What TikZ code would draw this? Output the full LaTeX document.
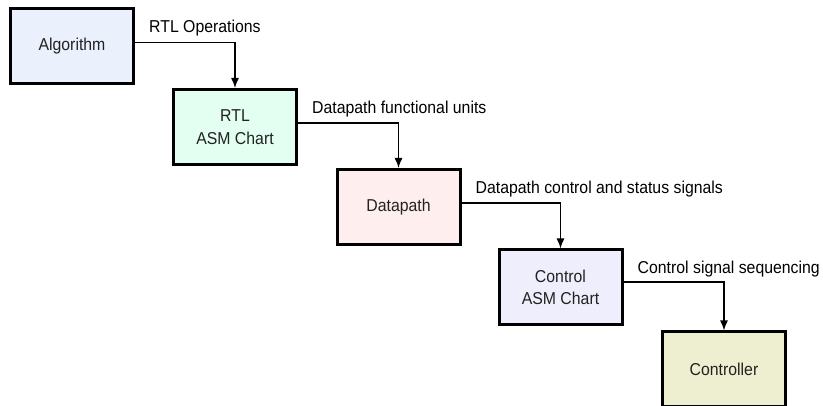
\documentclass[tikz,border=0pt]{standalone}
\usepackage{fontspec}
\setmainfont[FakeStretch=0.92]{Liberation Sans}
\usetikzlibrary{arrows.meta}
\definecolor{algfill}{RGB}{234,240,252}
\definecolor{rtlfill}{RGB}{226,255,242}
\definecolor{dpfill}{RGB}{255,238,238}
\definecolor{ctlfill}{RGB}{238,238,252}
\definecolor{ctrlfill}{RGB}{238,238,208}
\definecolor{boxtext}{RGB}{34,34,34}

\begin{document}
\begin{tikzpicture}[x=1pt, y=-1pt,
    stage/.style={draw, line width=3pt, minimum width=123pt, minimum height=75pt,
      align=center, text=boxtext, font=\fontsize{17.2}{22.5}\selectfont},
    flow/.style={line width=1.4pt, -{Latex[length=10pt,width=8pt]}},
    lbl/.style={anchor=base west, inner sep=0pt, font=\fontsize{17.2}{19}\selectfont}]
    \useasboundingbox (0,0) rectangle (823,406);
    % design steps, one box per stage
    \node[stage, fill=algfill] (alg) at (72,46.5) {Algorithm};
    \node[stage, fill=rtlfill] (rtl) at (235,127) {RTL\\ASM Chart};
    \node[stage, fill=dpfill] (dp) at (398.5,207) {Datapath};
    \node[stage, fill=ctlfill] (ctl) at (560.5,287.5) {Control\\ASM Chart};
    \node[stage, fill=ctrlfill] (ctrl) at (724,369.5) {Controller};
    % what each step hands down
    \draw[flow] ([yshift=4pt]alg.east) -| (rtl.north);
    \draw[flow] ([yshift=4pt]rtl.east) -| (dp.north);
    \draw[flow] ([yshift=4pt]dp.east) -| (ctl.north);
    \draw[flow] ([yshift=5.5pt]ctl.east) -| (ctrl.north);
    \node[lbl] (l1) at ([xshift=14pt, yshift=13.5pt]alg.east) {RTL Operations};
    \node[lbl] (l2) at ([xshift=14pt, yshift=13.5pt]rtl.east) {Datapath functional units};
    \node[lbl] (l3) at ([xshift=14pt, yshift=13.5pt]dp.east) {Datapath control and status signals};
    \node[lbl] (l4) at ([xshift=14pt, yshift=13.5pt]ctl.east) {Control signal sequencing};
  \end{tikzpicture}
\end{document}
